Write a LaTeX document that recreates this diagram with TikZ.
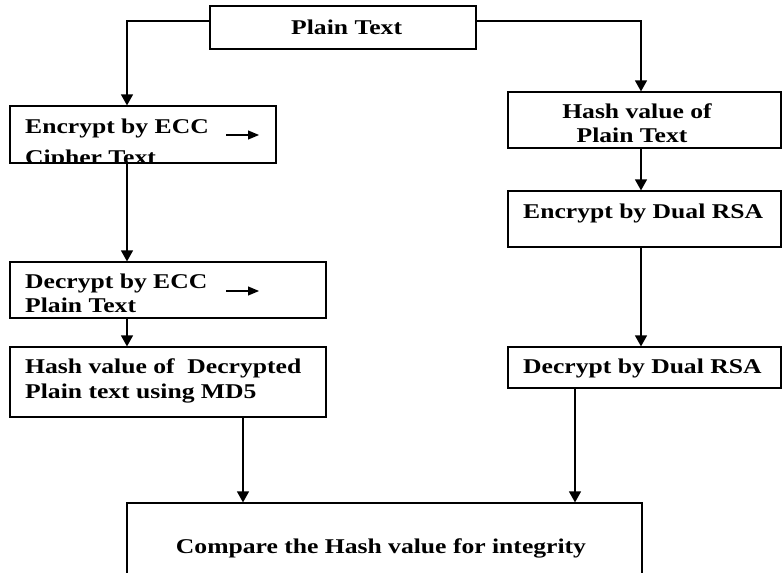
\documentclass[tikz,border=0pt]{standalone}
\usepackage{fontspec}
\setmainfont[FakeStretch=1.22]{Liberation Serif}
\usetikzlibrary{arrows.meta}
\tikzset{
  box/.style={draw=black, line width=1.2pt, fill=white, inner sep=0pt, rectangle},
  lbl/.style={inner sep=0pt, anchor=base west, font=\fontsize{21}{24.5}\bfseries\selectfont},
  clbl/.style={inner sep=0pt, anchor=base, font=\fontsize{21}{24.5}\bfseries\selectfont},
  arr/.style={line width=1.2pt, -{Triangle[width=12pt,length=11pt]}},
  small/.style={line width=1.1pt, -{Triangle[width=9pt,length=11pt]}}
}
\begin{document}
\begin{tikzpicture}[x=1pt,y=-1pt]
\useasboundingbox (0,0) rectangle (782,573);
% boxes
\node[box, minimum width=266pt, minimum height=43pt] (plain) at (343,27.5) {};
\node[box, minimum width=266pt, minimum height=57pt] (encecc) at (143,134.5) {};
\node[box, minimum width=316pt, minimum height=56pt] (dececc) at (168,290) {};
\node[box, minimum width=316pt, minimum height=70pt] (hashmd) at (168,382) {};
\node[box, minimum width=273pt, minimum height=56pt] (hashpt) at (644.5,120) {};
\node[box, minimum width=273pt, minimum height=56pt] (encrsa) at (644.5,219) {};
\node[box, minimum width=273pt, minimum height=41pt] (decrsa) at (644.5,367.5) {};
\node[box, minimum width=515pt, minimum height=76pt] (cmp) at (384.5,541) {};
% texts
\node[lbl] (tplain) at (291,34) {Plain Text};
\begin{scope}
\clip (11,107) rectangle (275,161.5);
\node[lbl] (tenc1) at (25,133) {Encrypt by ECC};
\node[lbl] (tenc2) at (25,164) {Cipher Text};
\end{scope}
\node[lbl] (tdec1) at (25,288) {Decrypt by ECC};
\node[lbl] (tdec2) at (25,312) {Plain Text};
\node[lbl] (thmd1) at (25,373) {Hash value of \ Decrypted};
\node[lbl] (thmd2) at (25,398) {Plain text using MD5};
\node[clbl] (thpt1) at (637,118) {Hash value of};
\node[clbl] (thpt2) at (632,142) {Plain Text};
\node[lbl] (tencrsa) at (523,218) {Encrypt by Dual RSA};
\node[lbl] (tdecrsa) at (523,373) {Decrypt by Dual RSA};
\node[clbl] (tcmp) at (381,553) {Compare the Hash value for integrity};
% column coordinates
\coordinate (lc) at (127,0);
\coordinate (rc) at (641,0);
\coordinate (mc) at (243,0);
\coordinate (nc) at (575,0);
\coordinate (pl) at (0,21);
% small inline arrows
\coordinate (sa1) at (226,135);
\coordinate (sb1) at (259,135);
\coordinate (sa2) at (226,291);
\coordinate (sb2) at (259,291);
\draw[small] (sa1) -- (sb1);
\draw[small] (sa2) -- (sb2);
% connectors
\draw[arr] (plain.west |- pl) -| (encecc.north -| lc);
\draw[arr] (plain.east |- pl) -| (hashpt.north -| rc);
\draw[arr] (encecc.south -| lc) -- (dececc.north -| lc);
\draw[arr] (dececc.south -| lc) -- (hashmd.north -| lc);
\draw[arr] (hashpt.south -| rc) -- (encrsa.north -| rc);
\draw[arr] (encrsa.south -| rc) -- (decrsa.north -| rc);
\draw[arr] (hashmd.south -| mc) -- (cmp.north -| mc);
\draw[arr] (decrsa.south -| nc) -- (cmp.north -| nc);
\end{tikzpicture}
\end{document}
